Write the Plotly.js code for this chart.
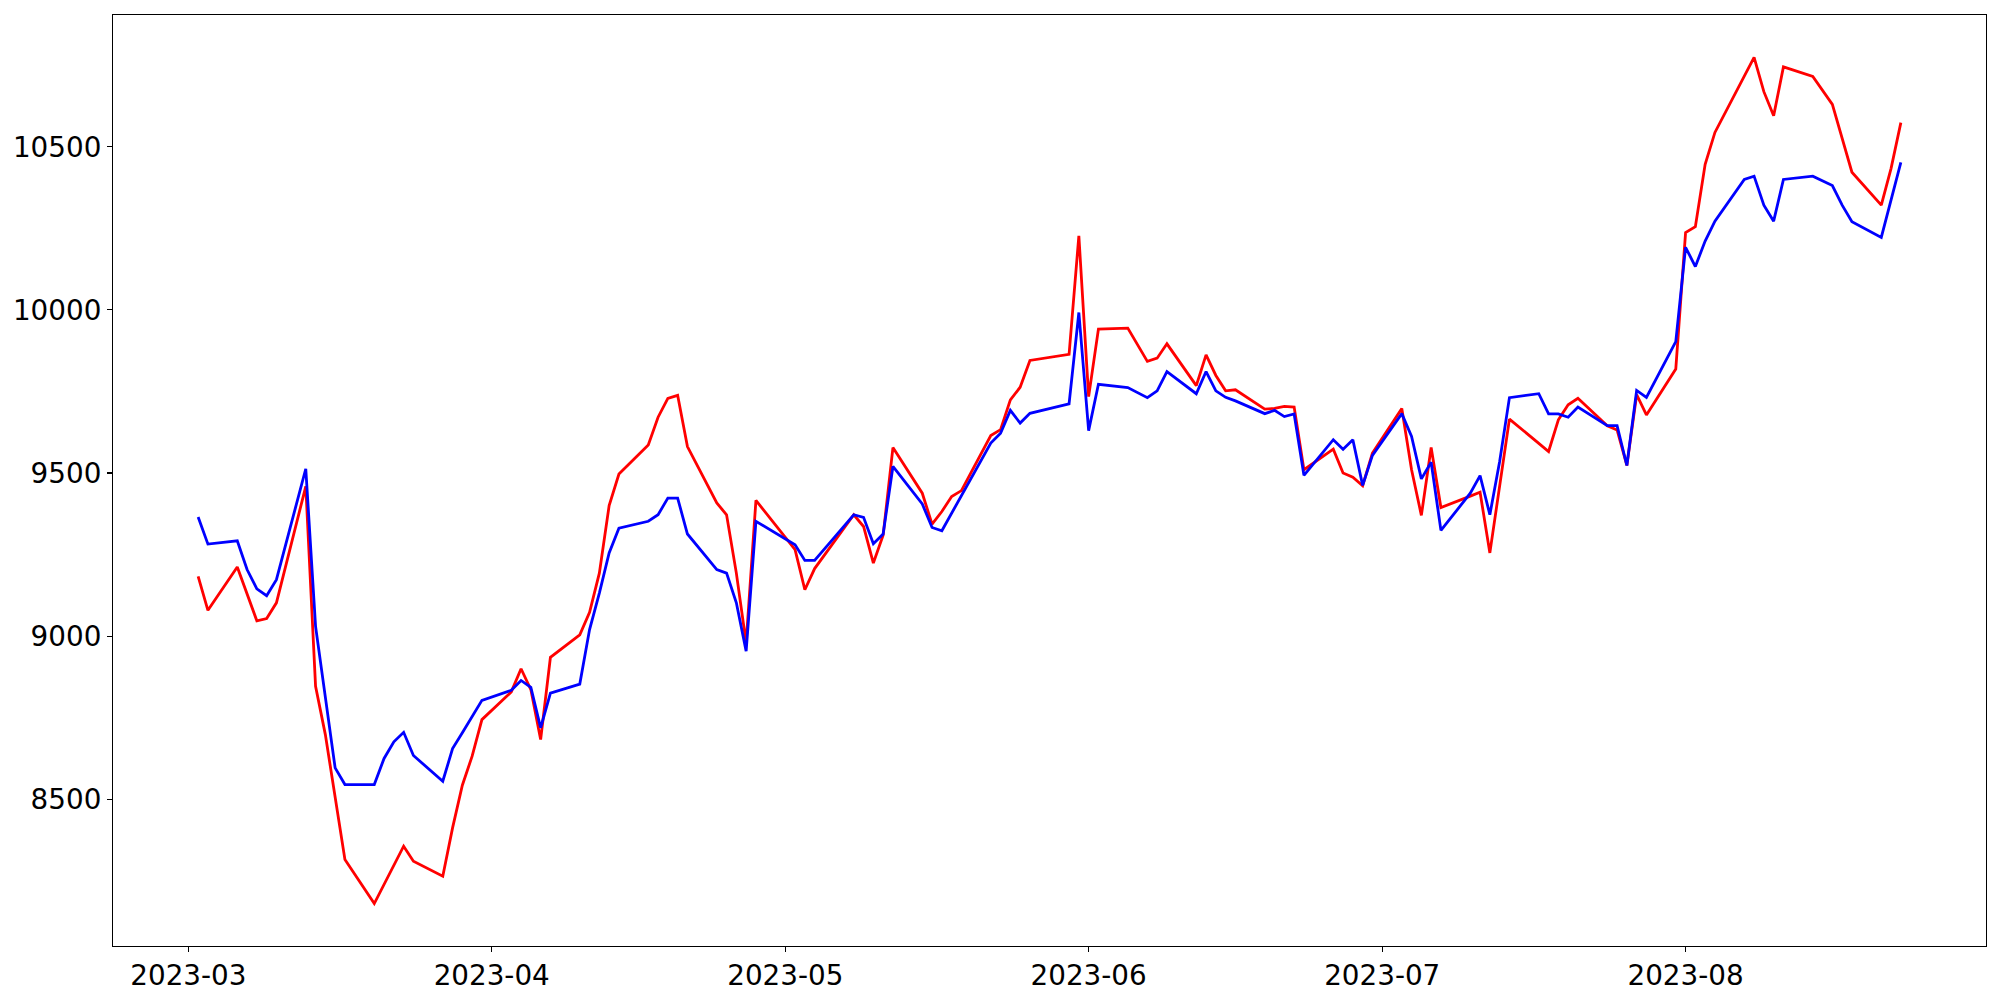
<!DOCTYPE html>
<html>
<head>
<meta charset="utf-8">
<script src="https://cdn.plot.ly/plotly-3.0.1.min.js"></script>
<style>
  html, body { margin: 0; padding: 0; background: #ffffff; }
  #chart { width: 2000px; height: 1000px; }
</style>
</head>
<body>
<div id="chart"></div>
<script>
// Trading dates (KRX calendar, 2023-03-02 .. 2023-08-23)
const dates = [
  "2023-03-02","2023-03-03","2023-03-06","2023-03-07","2023-03-08","2023-03-09","2023-03-10",
  "2023-03-13","2023-03-14","2023-03-15","2023-03-16","2023-03-17","2023-03-20","2023-03-21",
  "2023-03-22","2023-03-23","2023-03-24","2023-03-27","2023-03-28","2023-03-29","2023-03-30","2023-03-31",
  "2023-04-03","2023-04-04","2023-04-05","2023-04-06","2023-04-07","2023-04-10","2023-04-11",
  "2023-04-12","2023-04-13","2023-04-14","2023-04-17","2023-04-18","2023-04-19","2023-04-20",
  "2023-04-21","2023-04-24","2023-04-25","2023-04-26","2023-04-27","2023-04-28",
  "2023-05-02","2023-05-03","2023-05-04","2023-05-08","2023-05-09","2023-05-10","2023-05-11",
  "2023-05-12","2023-05-15","2023-05-16","2023-05-17","2023-05-18","2023-05-19","2023-05-22",
  "2023-05-23","2023-05-24","2023-05-25","2023-05-26","2023-05-30","2023-05-31",
  "2023-06-01","2023-06-02","2023-06-05","2023-06-07","2023-06-08","2023-06-09","2023-06-12",
  "2023-06-13","2023-06-14","2023-06-15","2023-06-16","2023-06-19","2023-06-20","2023-06-21",
  "2023-06-22","2023-06-23","2023-06-26","2023-06-27","2023-06-28","2023-06-29","2023-06-30",
  "2023-07-03","2023-07-04","2023-07-05","2023-07-06","2023-07-07","2023-07-10","2023-07-11",
  "2023-07-12","2023-07-13","2023-07-14","2023-07-17","2023-07-18","2023-07-19","2023-07-20",
  "2023-07-21","2023-07-24","2023-07-25","2023-07-26","2023-07-27","2023-07-28","2023-07-31",
  "2023-08-01","2023-08-02","2023-08-03","2023-08-04","2023-08-07","2023-08-08","2023-08-09",
  "2023-08-10","2023-08-11","2023-08-14","2023-08-16","2023-08-17","2023-08-18","2023-08-21",
  "2023-08-22","2023-08-23"
];

// Red series
const redValues = [
  9183, 9079, 9212, 9129, 9047, 9054, 9102,
  9459, 8846, 8698, 8504, 8315, 8180, 8239,
  8298, 8356, 8310, 8264, 8412, 8543, 8632, 8744,
  8829, 8900, 8836, 8683, 8935, 9004, 9073,
  9193, 9400, 9497, 9586, 9671, 9729, 9738,
  9581, 9408, 9372, 9193, 8979, 9416,
  9265, 9142, 9207, 9372, 9336, 9224, 9309,
  9578, 9438, 9343, 9382, 9428, 9446, 9615,
  9633, 9724, 9763, 9845, 9864, 10227,
  9734, 9941, 9944, 9842, 9852, 9896, 9768,
  9862, 9799, 9752, 9755, 9696, 9698, 9704,
  9702, 9510, 9573, 9500, 9487, 9461, 9561,
  9698, 9510, 9370, 9578, 9394, 9429, 9441,
  9255, 9460, 9665, 9591, 9566, 9663, 9709,
  9729, 9645, 9632, 9523, 9740, 9678, 9819,
  10237, 10255, 10446, 10544, 10716, 10774, 10669,
  10595, 10745, 10716, 10630, 10528, 10422, 10321,
  10434, 10574
];

// Blue series
const blueValues = [
  9365, 9282, 9292, 9204, 9145, 9124, 9173,
  9513, 9030, 8811, 8596, 8545, 8545, 8625,
  8676, 8705, 8634, 8555, 8655, 8704, 8754, 8803,
  8834, 8864, 8843, 8719, 8825, 8853, 9020,
  9132, 9255, 9331, 9352, 9372, 9423, 9423,
  9313, 9204, 9193, 9102, 8954, 9352,
  9280, 9232, 9232, 9372, 9364, 9283, 9313,
  9520, 9405, 9333, 9323, 9377, 9428, 9592,
  9622, 9692, 9653, 9683, 9712, 9992,
  9630, 9772, 9762, 9731, 9752, 9811, 9743,
  9811, 9752, 9732, 9721, 9682, 9692, 9673,
  9681, 9493, 9602, 9573, 9602, 9462, 9554,
  9682, 9612, 9482, 9533, 9324, 9438, 9492,
  9372, 9535, 9731, 9743, 9681, 9681, 9671,
  9702, 9645, 9645, 9523, 9753, 9732, 9903,
  10192, 10133, 10211, 10272, 10400, 10410, 10321,
  10272, 10400, 10410, 10381, 10321, 10270, 10222,
  10337, 10452
];

const xTickVals = ["2023-03-01","2023-04-01","2023-05-01","2023-06-01","2023-07-01","2023-08-01"];
const xTickText = ["2023-03","2023-04","2023-05","2023-06","2023-07","2023-08"];
const yTickVals = [8500, 9000, 9500, 10000, 10500];
const yTickText = ["8500", "9000", "9500", "10000", "10500"];

const traces = [
  { x: dates, y: redValues, type: "scatter", mode: "lines",
    line: { color: "#ff0000", width: 2.8 }, showlegend: false, hoverinfo: "x+y" },
  { x: dates, y: blueValues, type: "scatter", mode: "lines",
    line: { color: "#0000ff", width: 2.8 }, showlegend: false, hoverinfo: "x+y" }
];

const tickFont = { family: "DejaVu Sans, sans-serif", size: 27.8, color: "#000000" };

const layout = {
  width: 2000, height: 1000,
  paper_bgcolor: "#ffffff", plot_bgcolor: "#ffffff",
  margin: { l: 113, r: 14, t: 15, b: 54, pad: 0 },
  showlegend: false,
  xaxis: {
    type: "date",
    range: ["2023-02-21 07:12", "2023-08-31 16:48"],
    tickmode: "array", tickvals: xTickVals, ticktext: xTickText,
    ticks: "outside", ticklen: 5, tickwidth: 1.1, tickcolor: "#000000",
    showline: true, linecolor: "#000000", linewidth: 1.1, mirror: true,
    showgrid: false, zeroline: false,
    tickfont: tickFont
  },
  yaxis: {
    range: [8050, 10904],
    tickmode: "array", tickvals: yTickVals, ticktext: yTickText,
    ticks: "outside", ticklen: 5, tickwidth: 1.1, tickcolor: "#000000",
    showline: true, linecolor: "#000000", linewidth: 1.1, mirror: true,
    showgrid: false, zeroline: false,
    tickfont: tickFont
  }
};

Plotly.newPlot("chart", traces, layout, { displayModeBar: false, staticPlot: true });
</script>
</body>
</html>
